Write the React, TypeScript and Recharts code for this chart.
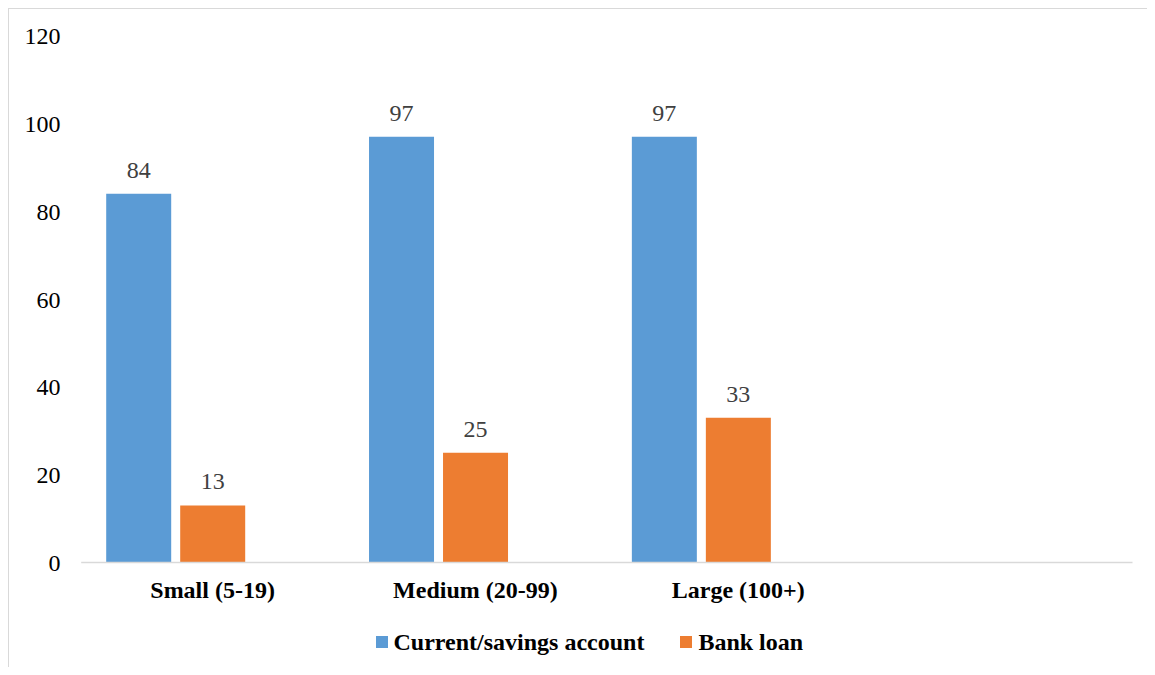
import React from 'react';
import { BarChart, Bar, XAxis, YAxis, Legend, LabelList } from 'recharts';

const categories = ['Small (5-19)', 'Medium (20-99)', 'Large (100+)', ''];
const accountValues = [84, 97, 97, null];
const loanValues = [13, 25, 33, null];
// the source chart keeps an empty third series, which pushes the two bars left in each group
const emptyValues = [null, null, null, null];
const yTicks = [0, 20, 40, 60, 80, 100, 120];
const legendOrder = ['Current/savings account', 'Bank loan'];

const data = categories.map((name, i) => ({
  name,
  account: accountValues[i],
  loan: loanValues[i],
  empty: emptyValues[i],
}));

const FONT = '"Liberation Serif", "Times New Roman", serif';

function LegendContent(props: any) {
  const payload = (props.payload || []).filter((p: any) => p.type !== 'none');
  const items = legendOrder
    .map((name) => payload.find((p: any) => p.value === name))
    .filter(Boolean);
  return (
    <div
      style={{
        height: 30,
        display: 'flex',
        alignItems: 'center',
        paddingLeft: 366.5,
        fontFamily: FONT,
        fontSize: 24,
        fontWeight: 'bold',
        color: '#000',
        lineHeight: '30px',
      }}
    >
      {items.map((item: any, i: number) => (
        <div key={i} style={{ display: 'flex', alignItems: 'center', marginRight: 36 }}>
          <span style={{ display: 'inline-block', width: 12, height: 12, background: item.color, marginRight: 6 }} />
          <span>{item.value}</span>
        </div>
      ))}
    </div>
  );
}

export default function App() {
  return (
    <div
      style={{
        width: 1139,
        height: 659,
        boxSizing: 'border-box',
        borderTop: '1.5px solid #d9d9d9',
        borderLeft: '1.5px solid #d9d9d9',
        background: '#fff',
      }}
    >
      <BarChart
        width={1137}
        height={655}
        data={data}
        margin={{ top: 26.8, right: 13.5, left: 0, bottom: 7.2 }}
        barSize={65}
        barGap={9}
      >
        <XAxis
          dataKey="name"
          interval={0}
          height={64.3}
          axisLine={{ stroke: '#d9d9d9', strokeWidth: 1.4 }}
          tickLine={false}
          tickSize={0}
          tickMargin={18.7}
          tick={{ fill: '#000', fontSize: 24, fontWeight: 'bold', fontFamily: FONT }}
        />
        <YAxis
          width={72.2}
          domain={[0, 120]}
          ticks={yTicks}
          axisLine={false}
          tickLine={false}
          tickSize={0}
          tickMargin={20.7}
          tick={{ fill: '#000', fontSize: 24, fontFamily: FONT }}
        />
        <Legend verticalAlign="bottom" content={<LegendContent />} />
        <Bar dataKey="account" name="Current/savings account" fill="#5B9BD5" isAnimationActive={false}>
          <LabelList dataKey="account" position="top" offset={16} fill="#404040" fontSize={24} fontFamily={FONT} />
        </Bar>
        <Bar dataKey="loan" name="Bank loan" fill="#ED7D31" isAnimationActive={false}>
          <LabelList dataKey="loan" position="top" offset={16} fill="#404040" fontSize={24} fontFamily={FONT} />
        </Bar>
        <Bar dataKey="empty" name="empty" fill="#A5A5A5" legendType="none" isAnimationActive={false} />
      </BarChart>
    </div>
  );
}
